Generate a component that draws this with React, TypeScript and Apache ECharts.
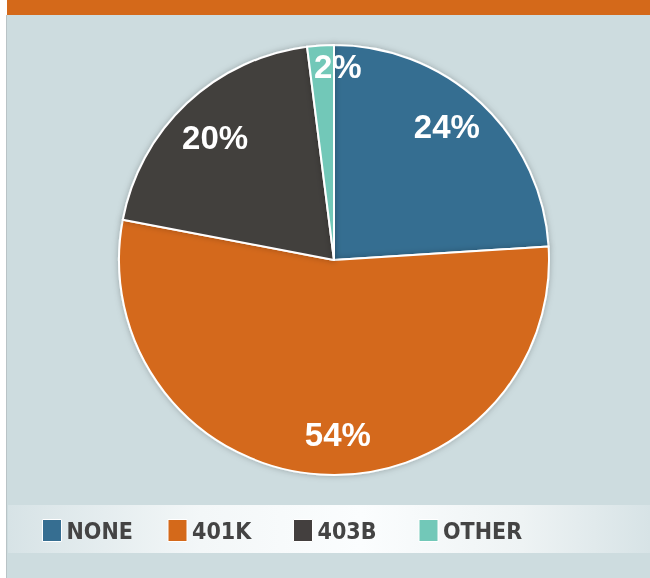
import React, { useEffect, useRef } from "react";
import * as echarts from "echarts";

const categories = ["NONE", "401K", "403B", "OTHER"];
const values = [24, 54, 20, 2];
const colors = ["#366e91", "#d4691a", "#433f3e", "#72c8b8"];
// nudges of the percentage labels from their default radial spot
const labelNudges = [[-9, -4], [15, -3], [3, 7], [15, -16]];

export default function App() {
  const ref = useRef<HTMLDivElement>(null);
  useEffect(() => {
    if (!ref.current) return;
    const chart = echarts.init(ref.current, undefined, { renderer: "svg" });
    const pieData = categories.map((name, i) => ({
      name,
      value: values[i],
      itemStyle: { color: colors[i] },
    }));
    const labelData = categories.map((name, i) => ({
      name,
      value: values[i],
      label: { offset: labelNudges[i] },
    }));
    chart.setOption({
      animation: false,
      graphic: [
        { type: "rect", shape: { x: 0, y: 0, width: 650, height: 578 }, style: { fill: "#ffffff" }, silent: true, z: -10 },
        { type: "rect", shape: { x: 6, y: 15, width: 1.5, height: 563 }, style: { fill: "#b9c3c6" }, silent: true, z: -10 },
        { type: "rect", shape: { x: 7, y: 15, width: 643, height: 563 }, style: { fill: "#cddcdf" }, silent: true, z: -10 },
        { type: "rect", shape: { x: 7, y: 0, width: 643, height: 15 }, style: { fill: "#d4691a" }, silent: true, z: -10 },
        {
          type: "rect",
          shape: { x: 8, y: 505, width: 642, height: 48 },
          style: {
            fill: new echarts.graphic.LinearGradient(0, 0, 1, 0, [
              { offset: 0, color: "#d7e3e6" },
              { offset: 0.3, color: "#f3f7f8" },
              { offset: 0.55, color: "#fbfdfe" },
              { offset: 0.8, color: "#eef3f4" },
              { offset: 1, color: "#d7e3e6" },
            ]),
          },
          silent: true,
          z: -10,
        },
      ],
      legend: {
        data: categories,
        left: 37,
        top: 514,
        orient: "horizontal",
        itemWidth: 19,
        itemHeight: 22,
        itemGap: 0,
        icon: "rect",
        itemStyle: { borderColor: "#ffffff", borderWidth: 1 },
        textStyle: {
          color: "#444444",
          fontSize: 23,
          fontWeight: "bold",
          fontFamily: "'Liberation Sans Narrow', 'DejaVu Sans Condensed', 'Roboto', sans-serif",
          width: 101,
          lineHeight: 22,
        },
      },
      series: [
        {
          type: "pie",
          center: [334, 260],
          radius: [0, 215],
          startAngle: 90,
          clockwise: true,
          data: pieData,
          label: { show: false },
          labelLine: { show: false },
          itemStyle: {
            borderColor: "#ffffff",
            borderWidth: 2,
            shadowBlur: 6,
            shadowColor: "rgba(0,0,0,0.25)",
          },
          emphasis: { disabled: true },
        },
        {
          type: "pie",
          center: [334, 260],
          radius: [150, 200],
          startAngle: 90,
          clockwise: true,
          silent: true,
          legendHoverLink: false,
          data: labelData,
          itemStyle: { color: "rgba(0,0,0,0)", borderWidth: 0 },
          label: {
            show: true,
            position: "inside",
            formatter: "{c}%",
            color: "#ffffff",
            fontSize: 33,
            fontWeight: "bold",
            fontFamily: "'Liberation Sans', Arial, sans-serif",
          },
          labelLine: { show: false },
          emphasis: { disabled: true },
        },
      ],
    });
    return () => chart.dispose();
  }, []);
  return (
    <div
      ref={ref}
      style={{ position: "fixed", left: 0, top: 0, width: 650, height: 578 }}
    />
  );
}
